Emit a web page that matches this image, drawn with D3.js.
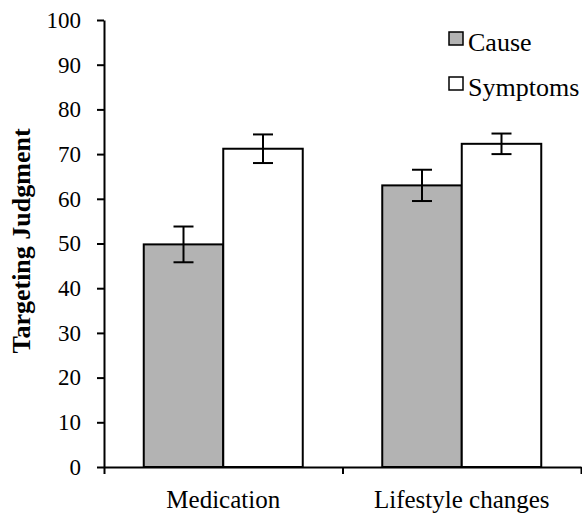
<!DOCTYPE html>
<html>
<head>
<meta charset="utf-8">
<script src="https://cdn.jsdelivr.net/npm/d3@7"></script>
<style>
  body { margin: 0; background: #fff; }
</style>
</head>
<body>
<div id="chart"></div>
<script>
var categories = ["Medication", "Lifestyle changes"];
var seriesNames = ["Cause", "Symptoms"];
var causeMeans = [49.8, 63.0];
var causeErrors = [4.0, 3.5];
var symptomsMeans = [71.2, 72.3];
var symptomsErrors = [3.2, 2.3];
var yTicks = [0, 10, 20, 30, 40, 50, 60, 70, 80, 90, 100];
var seriesColors = ["#b3b3b3", "#ffffff"];

var serif = "'Liberation Serif', 'DejaVu Serif', serif";

var margin = {top: 20, right: 1, bottom: 47, left: 104},
    width = 582 - margin.left - margin.right,
    height = 514 - margin.top - margin.bottom;

var svg = d3.select("#chart")
    .append("svg")
    .attr("width", width + margin.left + margin.right)
    .attr("height", height + margin.top + margin.bottom)
    .append("g")
    .attr("transform", "translate(" + margin.left + "," + margin.top + ")");

// rows: one per category, each with both series
var rows = categories.map(function(c, i) {
    return [
        {cat: c, series: seriesNames[0], value: causeMeans[i], err: causeErrors[i]},
        {cat: c, series: seriesNames[1], value: symptomsMeans[i], err: symptomsErrors[i]}
    ];
});

var x0 = d3.scaleBand()
    .domain(categories)
    .range([0, width])
    .padding(0);

var x1 = d3.scaleBand()
    .domain(seriesNames)
    .range([x0.bandwidth() / 6, x0.bandwidth() * 5 / 6])
    .padding(0);

var y = d3.scaleLinear()
    .domain([0, 100])
    .range([height, 0]);

var color = d3.scaleOrdinal()
    .domain(seriesNames)
    .range(seriesColors);

// bars
var groups = svg.selectAll(".group")
    .data(rows)
    .enter()
    .append("g")
    .attr("class", "group")
    .attr("transform", function(d) { return "translate(" + x0(d[0].cat) + ",0)"; });

groups.selectAll("rect")
    .data(function(d) { return d; })
    .enter()
    .append("rect")
    .attr("x", function(d) { return x1(d.series); })
    .attr("y", function(d) { return y(d.value); })
    .attr("width", x1.bandwidth())
    .attr("height", function(d) { return height - y(d.value); })
    .attr("fill", function(d) { return color(d.series); })
    .attr("stroke", "#000")
    .attr("stroke-width", 2);

// error bars
var capHalf = 10;
var err = groups.selectAll(".err")
    .data(function(d) { return d; })
    .enter()
    .append("g")
    .attr("class", "err")
    .attr("stroke", "#000")
    .attr("stroke-width", 2);

err.append("line")
    .attr("x1", function(d) { return x1(d.series) + x1.bandwidth() / 2; })
    .attr("x2", function(d) { return x1(d.series) + x1.bandwidth() / 2; })
    .attr("y1", function(d) { return y(d.value + d.err); })
    .attr("y2", function(d) { return y(d.value - d.err); });

err.append("line")
    .attr("x1", function(d) { return x1(d.series) + x1.bandwidth() / 2 - capHalf; })
    .attr("x2", function(d) { return x1(d.series) + x1.bandwidth() / 2 + capHalf; })
    .attr("y1", function(d) { return y(d.value + d.err); })
    .attr("y2", function(d) { return y(d.value + d.err); });

err.append("line")
    .attr("x1", function(d) { return x1(d.series) + x1.bandwidth() / 2 - capHalf; })
    .attr("x2", function(d) { return x1(d.series) + x1.bandwidth() / 2 + capHalf; })
    .attr("y1", function(d) { return y(d.value - d.err); })
    .attr("y2", function(d) { return y(d.value - d.err); });

// y axis
var yAxis = svg.append("g")
    .call(d3.axisLeft(y).tickValues(yTicks).tickSize(7).tickPadding(16).tickSizeOuter(0));
yAxis.selectAll("path, line").attr("stroke", "#000").attr("stroke-width", 2);
yAxis.selectAll("text")
    .style("font-family", serif)
    .style("font-size", "23px")
    .attr("fill", "#000");

// x axis: boundary ticks + centred labels
var xEdges = d3.scaleLinear().domain([0, categories.length]).range([0, width]);
var xAxis = svg.append("g")
    .attr("transform", "translate(0," + height + ")")
    .call(d3.axisBottom(xEdges).tickValues(d3.range(categories.length + 1)).tickFormat("").tickSize(7).tickSizeOuter(0));
xAxis.selectAll("path, line").attr("stroke", "#000").attr("stroke-width", 2);

var xLabels = svg.append("g")
    .attr("transform", "translate(0," + height + ")")
    .call(d3.axisBottom(x0).tickSize(0).tickPadding(23));
xLabels.select(".domain").remove();
xLabels.selectAll("text")
    .style("font-family", serif)
    .style("font-size", "25px")
    .attr("fill", "#000");

// y label
svg.append("text")
    .attr("transform", "rotate(-90)")
    .attr("x", -(241 - margin.top))
    .attr("y", 30 - margin.left)
    .attr("text-anchor", "middle")
    .style("font-family", serif)
    .style("font-size", "26px")
    .style("font-weight", "bold")
    .text("Targeting Judgment");

// legend
var legend = svg.append("g")
    .attr("transform", "translate(" + (449 - margin.left) + "," + (32 - margin.top) + ")");

var legendItem = legend.selectAll(".item")
    .data(seriesNames)
    .enter()
    .append("g")
    .attr("class", "item")
    .attr("transform", function(d, i) { return "translate(0," + (i * 45) + ")"; });

legendItem.append("rect")
    .attr("width", 14)
    .attr("height", 13)
    .attr("fill", function(d) { return color(d); })
    .attr("stroke", "#000")
    .attr("stroke-width", 1.5);

legendItem.append("text")
    .attr("x", 19)
    .attr("y", 19)
    .style("font-family", serif)
    .style("font-size", "26px")
    .text(function(d) { return d; });
</script>
</body>
</html>
